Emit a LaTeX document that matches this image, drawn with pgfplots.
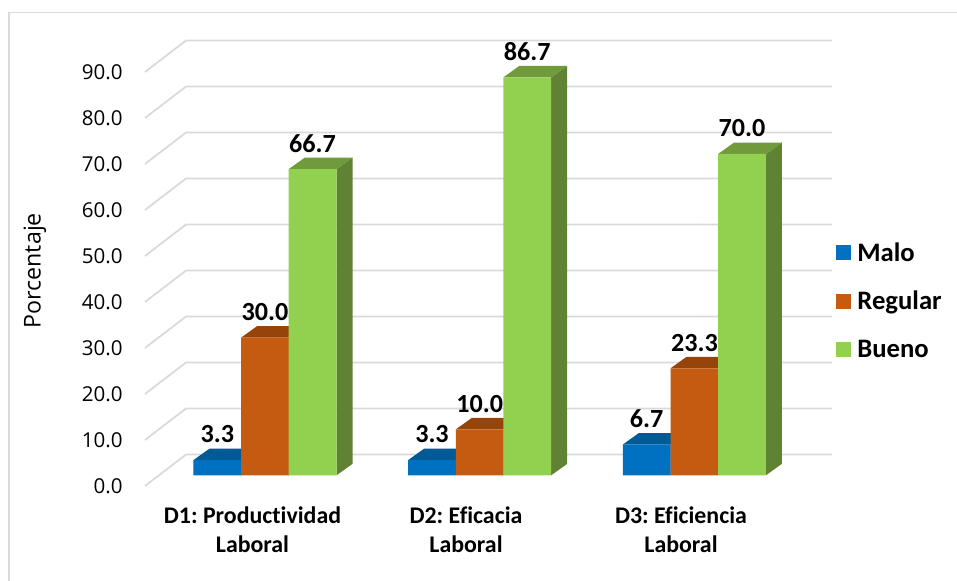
\documentclass[border=0pt]{standalone}
\usepackage{pgfplots}
\pgfplotsset{compat=1.18}
\usepackage{fontspec}
\setmainfont[Ligatures=NoCommon]{Carlito}
\newfontfamily\tickfont{Open Sans}
\definecolor{gridgray}{HTML}{D9D9D9}
\definecolor{maloF}{HTML}{0070C0}
\definecolor{maloT}{HTML}{005A96}
\definecolor{regF}{HTML}{C55A11}
\definecolor{regT}{HTML}{97440B}
\definecolor{bueF}{HTML}{92D050}
\definecolor{bueS}{HTML}{5F8332}
\definecolor{bueT}{HTML}{6F9B3A}
\frenchspacing

% values per series, x is the centre of the bar front
\pgfplotstableread{
x y
217.3 3.3
432.0 3.3
646.7 6.7
}\malo
\pgfplotstableread{
x y
265.0 30.0
479.7 10.0
694.4 23.3
}\regular
\pgfplotstableread{
x y
312.6 66.7
527.3 86.7
742.0 70.0
}\bueno

% depth faces of one bar: centre, value, side colour, top colour
\newcommand{\depthfaces}[4]{%
  \pgfmathsetmacro{\xl}{#1-23.9}%
  \pgfmathsetmacro{\xr}{#1+23.9}%
  \pgfmathsetmacro{\xrb}{#1+23.9+16}%
  \pgfmathsetmacro{\xlb}{#1-23.9+16}%
  \pgfmathsetmacro{\yb}{2.5}%
  \pgfmathsetmacro{\yt}{#2+2.5}%
  \addplot[forget plot,fill=#3,draw=none] coordinates {(\xr,0) (\xrb,\yb) (\xrb,\yt) (\xr,#2)} -- cycle;
  \addplot[forget plot,fill=#4,draw=none] coordinates {(\xl,#2) (\xlb,\yt) (\xrb,\yt) (\xr,#2)} -- cycle;
}

\pgfplotsset{
  layer/.style={
    scale only axis,
    width=516pt,
    anchor=origin,
    xmin=145, xmax=833,
    clip=false,
    axis line style={draw=none},
    tick style={draw=none},
  },
  valuebar/.style={
    ybar, bar width=47.8, bar shift=0pt, fill=#1, draw=none,
    nodes near coords,
    nodes near coords style={
      font=\bfseries\fontsize{19.6}{19.6}\selectfont, text=black, anchor=center, yshift=19.3pt,
      /pgf/number format/.cd, fixed, fixed zerofill, precision=1, assume math mode=true},
  },
}

\begin{document}
\begin{tikzpicture}
  % page size
  \path[use as bounding box] (0,0) rectangle (717.75pt,435.75pt);

  % wall: value scale, labels and gridlines
  \begin{axis}[
    layer,
    at={(108.75pt,71.25pt)},
    height=310.5pt,
    ymin=0, ymax=90,
    ytick={0,10,...,90},
    xtick=\empty,
    /pgf/number format/.cd, fixed, fixed zerofill, precision=1, assume math mode=true,
    /pgfplots/yticklabel style={font=\tickfont\fontsize{15.4}{15.4}\selectfont, text=black, xshift=-13.3pt},
    ylabel={\tickfont\fontsize{17.4}{17.4}\selectfont Porcentaje},
    ylabel style={at={(axis description cs:-0.16,0.52)}, anchor=center, text=black},
  ]
    \addplot[gridgray,line width=1.3pt] coordinates {(145,0) (186,6.85) (832,6.85)};
    \addplot[gridgray,line width=1.3pt] coordinates {(145,10) (186,16.85) (832,16.85)};
    \addplot[gridgray,line width=1.3pt] coordinates {(145,20) (186,26.85) (832,26.85)};
    \addplot[gridgray,line width=1.3pt] coordinates {(145,30) (186,36.85) (832,36.85)};
    \addplot[gridgray,line width=1.3pt] coordinates {(145,40) (186,46.85) (832,46.85)};
    \addplot[gridgray,line width=1.3pt] coordinates {(145,50) (186,56.85) (832,56.85)};
    \addplot[gridgray,line width=1.3pt] coordinates {(145,60) (186,66.85) (832,66.85)};
    \addplot[gridgray,line width=1.3pt] coordinates {(145,70) (186,76.85) (832,76.85)};
    \addplot[gridgray,line width=1.3pt] coordinates {(145,80) (186,86.85) (832,86.85)};
    \addplot[gridgray,line width=1.3pt] coordinates {(145,90) (186,96.85) (832,96.85)};
  \end{axis}

  % bars with their depth faces, category labels and legend
  \begin{axis}[
    layer,
    at={(108.75pt,79.275pt)},
    height=344.25pt,
    ymin=0, ymax=100,
    ytick=\empty,
    xtick={252.5,466,681},
    xticklabels={D1: Productividad\\Laboral,D2: Eficacia\\Laboral,D3: Eficiencia\\Laboral},
    xticklabel style={font=\bfseries\fontsize{17.9}{21.75}\selectfont, align=center, yshift=-20pt},
    legend style={at={(1.004,0.513)}, anchor=north west, draw=none, fill=none,
      font=\bfseries\fontsize{20}{20}\selectfont,
      /tikz/row sep=17pt, inner sep=0pt, outer sep=0pt,
      /tikz/every odd column/.append style={column sep=3pt}},
    legend cell align=left,
    legend image code/.code={\fill[#1] (0pt,-5.6pt) rectangle (11.25pt,5.6pt);},
  ]
    \depthfaces{217.3}{3.3}{maloT}{maloT}
    \depthfaces{432.0}{3.3}{maloT}{maloT}
    \depthfaces{646.7}{6.7}{maloT}{maloT}
    \addplot[valuebar=maloF] table {\malo};
    \addlegendentry{Malo}
    \depthfaces{265.0}{30.0}{regT}{regT}
    \depthfaces{479.7}{10.0}{regT}{regT}
    \depthfaces{694.4}{23.3}{regT}{regT}
    \addplot[valuebar=regF] table {\regular};
    \addlegendentry{Regular}
    \depthfaces{312.6}{66.7}{bueS}{bueT}
    \depthfaces{527.3}{86.7}{bueS}{bueT}
    \depthfaces{742.0}{70.0}{bueS}{bueT}
    \addplot[valuebar=bueF] table {\bueno};
    \addlegendentry{Bueno}
  \end{axis}

  % outer frame, open at the right and at the foot
  \draw[gridgray,line width=1.1pt] (6.6pt,-2pt) -- (6.6pt,426.4pt) -- (720pt,426.4pt);
\end{tikzpicture}
\end{document}
